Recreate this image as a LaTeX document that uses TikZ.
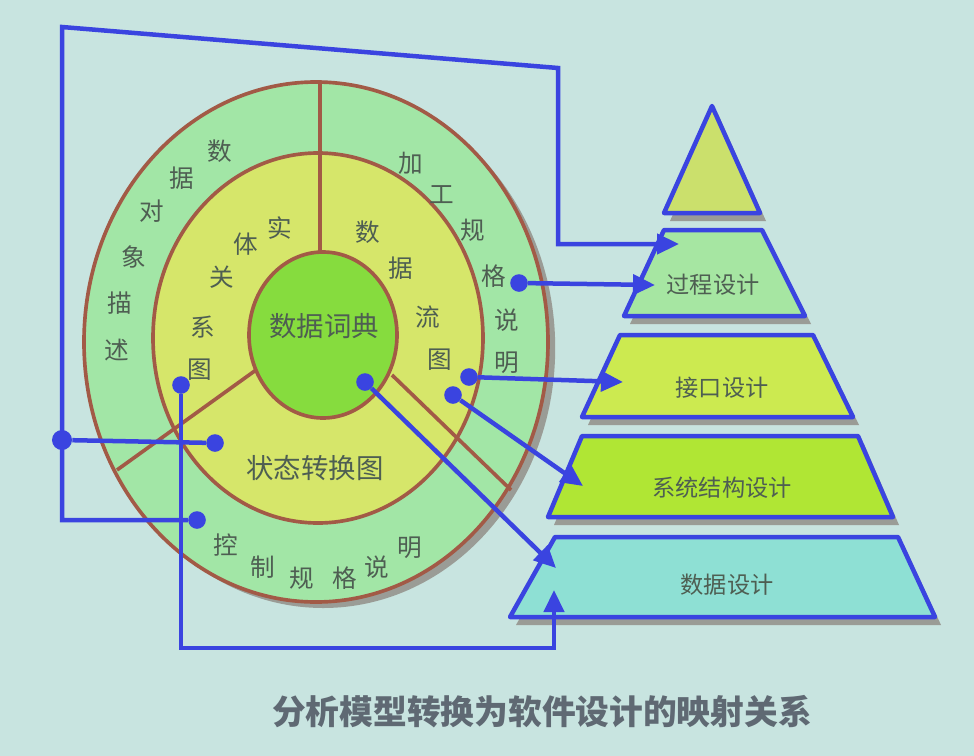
\documentclass[tikz,border=0pt]{standalone}
\usepackage{fontspec}
\setmainfont{Noto Sans CJK SC}
\usepackage{tikz}
\usetikzlibrary{arrows.meta,shadows}
\definecolor{bg}{HTML}{C8E4E0}
\definecolor{lblue}{HTML}{3A44E0}
\definecolor{brn}{HTML}{A25A46}
\definecolor{ring}{HTML}{A2E6A6}
\definecolor{mid}{HTML}{D6E66A}
\definecolor{core}{HTML}{86DC3E}
\definecolor{txt}{HTML}{4E5E52}
\definecolor{shd}{HTML}{9A9C96}
\definecolor{ttl}{HTML}{5F6973}
\definecolor{ptop}{HTML}{CBE06C}
\definecolor{pproc}{HTML}{A6E6A2}
\definecolor{pif}{HTML}{CCEA50}
\definecolor{parch}{HTML}{B0E634}
\definecolor{pdata}{HTML}{8EE0D4}
\tikzset{
  >={Triangle[length=5.5mm,width=5mm]},
  ch/.style={font=\fontsize{17.5}{18}\selectfont,text=txt,inner sep=0pt},
  bigch/.style={ch,font=\fontsize{19.5}{20}\selectfont},
  rim/.style={draw=brn,line width=2.6pt},
  lay/.style={draw=lblue,line width=3.2pt,line join=round,drop shadow={shadow xshift=1.5mm,shadow yshift=-2mm,fill=shd,opacity=1}},
  laylab/.style={font=\fontsize{16.5}{17}\selectfont,text=txt},
  bdot/.style={circle,fill=lblue,inner sep=0pt,minimum size=4.4mm},
  wire/.style={draw=lblue,line width=3.2pt},
  arr/.style={->,wire},
}
\begin{document}
\begin{tikzpicture}[x=0.025cm,y=-0.025cm]
\useasboundingbox (0,0) rectangle (974,756);
\fill[bg] (0,0) rectangle (974,756);
% analysis model rings
\path[rim,fill=ring,drop shadow={shadow xshift=1.8mm,shadow yshift=-1.5mm,fill=shd,opacity=1}] (316,342) ellipse [x radius=232,y radius=260];
\path[rim,fill=mid] (318,338) ellipse [x radius=165,y radius=185];
\path[rim,fill=core] (323,335) ellipse [x radius=74,y radius=83];
\draw[rim] (320,83) -- (320,252);
\draw[rim] (256,370) -- (117,470);
\draw[rim] (392,375) -- (511,490);
\foreach \c/\x/\y [count=\i] in {数/220/151,据/182/178,对/152/211,象/134/257,描/120/303,述/117/350}
  \node[ch] (dobj\i) at (\x,\y) {\c};
\foreach \c/\x/\y [count=\i] in {实/280/228,体/246/244,关/222/277,系/203/327,图/200/370}
  \node[ch] (erd\i) at (\x,\y) {\c};
\foreach \c/\x/\y [count=\i] in {数/368/232,据/401/268,流/428/317,图/440/360}
  \node[ch] (dfd\i) at (\x,\y) {\c};
\foreach \c/\x/\y [count=\i] in {加/411/163,工/442/195,规/473/230,格/494/276,说/507/320,明/507/363}
  \node[ch] (pspec\i) at (\x,\y) {\c};
\foreach \c/\x/\y [count=\i] in {控/226/545,制/263/567,规/302/578,格/345/578,说/377/567,明/410/548}
  \node[ch] (cspec\i) at (\x,\y) {\c};
\node[bigch] (dict) at (324,326) {数据词典};
\node[bigch] (std) at (315,468) {状态转换图};
% design pyramid
\path[lay,fill=ptop] (712,106) -- (760,213) -- (664,213) -- cycle;
\path[lay,fill=pproc] (664,230) -- (762,230) -- (805,316) -- (624,316) -- cycle;
\path[lay,fill=pif] (620,335) -- (813,335) -- (853,417) -- (582,417) -- cycle;
\path[lay,fill=parch] (582,436) -- (858,436) -- (893,517) -- (548,517) -- cycle;
\path[lay,fill=pdata] (555,537) -- (898,537) -- (935,617) -- (510,617) -- cycle;
\node[laylab] (proc) at (713,285) {过程设计};
\node[laylab] (intf) at (722,388) {接口设计};
\node[laylab] (arch) at (722,488) {系统结构设计};
\node[laylab] (data) at (727,585) {数据设计};
% mapping
\node[bdot] (dST) at (215,443) {};
\node[bdot,minimum size=5mm] (dJ) at (62,440) {};
\node[bdot] (dCS) at (197,520) {};
\node[bdot] (dPS) at (519,283) {};
\node[bdot] (dDF1) at (469,377) {};
\node[bdot] (dDF2) at (453,395) {};
\node[bdot] (dDD) at (365,382) {};
\node[bdot] (dER) at (181,385) {};
\coordinate (cTL) at (62,27); \coordinate (cTR) at (558,68); \coordinate (cBR) at (554,648);
\coordinate (tP1) at (679,244); \coordinate (tP2) at (655,285); \coordinate (tI) at (623,382);
\coordinate (tS) at (583,486); \coordinate (tD1) at (556,568); \coordinate (tD2) at (554,590);
\draw[wire] (dST) -- (dJ);
\draw[arr] (dCS) -| (cTL) -- (cTR) |- (tP1);
\draw[arr] (dPS) -- (tP2);
\draw[arr] (dDF1) -- (tI);
\draw[arr] (dDF2) -- (tS);
\draw[arr] (dDD) -- (tD1);
\draw[arr] (dER) |- (cBR) -- (tD2);
\node[font=\fontsize{24}{24}\selectfont\bfseries,text=ttl] (title) at (542,712) {分析模型转换为软件设计的映射关系};
\end{tikzpicture}
\end{document}
